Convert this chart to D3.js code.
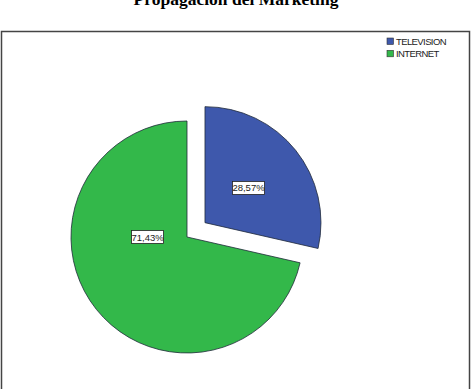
<!DOCTYPE html>
<html>
<head>
<meta charset="utf-8">
<script src="https://cdn.jsdelivr.net/npm/d3@7"></script>
<style>
  body { margin: 0; background: #fff; }
</style>
</head>
<body>
<div id="container"></div>
<script>
let w = 473;
let h = 389;

// data
let categories = ["TELEVISION", "INTERNET"];
let percents = [28.57, 71.43];
let colors = ["#3E58AC", "#33B84A"];
let title = "Propagación del Marketing";

let viz = d3.select("#container")
  .append("svg")
    .attr("width", w)
    .attr("height", h)
    .style("background-color", "white")
;

// title, clipped at top like the reference
viz.append("text")
    .attr("x", 236)
    .attr("y", 4.5)
    .attr("text-anchor", "middle")
    .style("font-family", "'Liberation Serif', 'Times New Roman', serif")
    .style("font-weight", "bold")
    .style("font-size", "17.5px")
    .text(title)
;

// frame
viz.append("rect")
    .attr("x", 1.5)
    .attr("y", 31.5)
    .attr("width", 468)
    .attr("height", 380)
    .attr("fill", "none")
    .attr("stroke", "#444")
    .attr("stroke-width", 1.5)
;

let radius = 116;
let cx = 187;
let cy = 237;
let explode = 23;

let pie = d3.pie().sort(null).value(function(d) { return d; });
let arcs = pie(percents);

let arc = d3.arc().innerRadius(0).outerRadius(radius);

function offset(d, i) {
  // only the first slice is pulled out
  if (i != 0) return [0, 0];
  let mid = (d.startAngle + d.endAngle) / 2;
  return [Math.sin(mid) * explode, -Math.cos(mid) * explode];
}

let pieGroup = viz.append("g")
    .attr("transform", "translate(" + cx + "," + cy + ")");

let slices = pieGroup.selectAll(".slice").data(arcs).enter()
  .append("g")
    .attr("class", "slice")
    .attr("transform", function(d, i) {
      let o = offset(d, i);
      return "translate(" + o[0] + "," + o[1] + ")";
    })
;

slices.append("path")
    .attr("d", arc)
    .attr("fill", function(d, i) { return colors[i]; })
    .attr("stroke", "#1f2a3a")
    .attr("stroke-width", 0.8)
;

// labels
function labelPos(d, i) {
  let mid = (d.startAngle + d.endAngle) / 2;
  let r = radius * 0.48;
  if (i == 1) { mid = Math.PI * 1.5; r = radius * 0.34; }
  return [Math.sin(mid) * r, -Math.cos(mid) * r];
}

let labels = slices.append("g")
    .attr("transform", function(d, i) {
      let p = labelPos(d, i);
      return "translate(" + p[0] + "," + p[1] + ")";
    })
;

labels.append("rect")
    .attr("x", -16)
    .attr("y", -6.5)
    .attr("width", 32)
    .attr("height", 13)
    .attr("fill", "white")
    .attr("stroke", "#222")
    .attr("stroke-width", 0.8)
;

labels.append("text")
    .attr("text-anchor", "middle")
    .attr("y", 3.5)
    .style("font-family", "'Liberation Sans', Arial, sans-serif")
    .style("font-size", "9.5px")
    .style("fill", "#222")
    .text(function(d, i) { return d3.format(".2f")(percents[i]).replace(".", ",") + "%"; })
;

// legend
let legend = viz.selectAll(".legend").data(categories).enter()
  .append("g")
    .attr("class", "legend")
    .attr("transform", function(d, i) { return "translate(387," + (38 + i * 12.3) + ")"; })
;

legend.append("rect")
    .attr("width", 6.5)
    .attr("height", 6.5)
    .attr("fill", function(d, i) { return colors[i]; })
    .attr("stroke", "#333")
    .attr("stroke-width", 0.6)
;

legend.append("text")
    .attr("x", 9)
    .attr("y", 6.8)
    .style("font-family", "'Liberation Sans', Arial, sans-serif")
    .style("font-size", "9.5px")
    .style("letter-spacing", "-0.6px")
    .style("fill", "#222")
    .text(function(d) { return d; })
;
</script>
</body>
</html>
